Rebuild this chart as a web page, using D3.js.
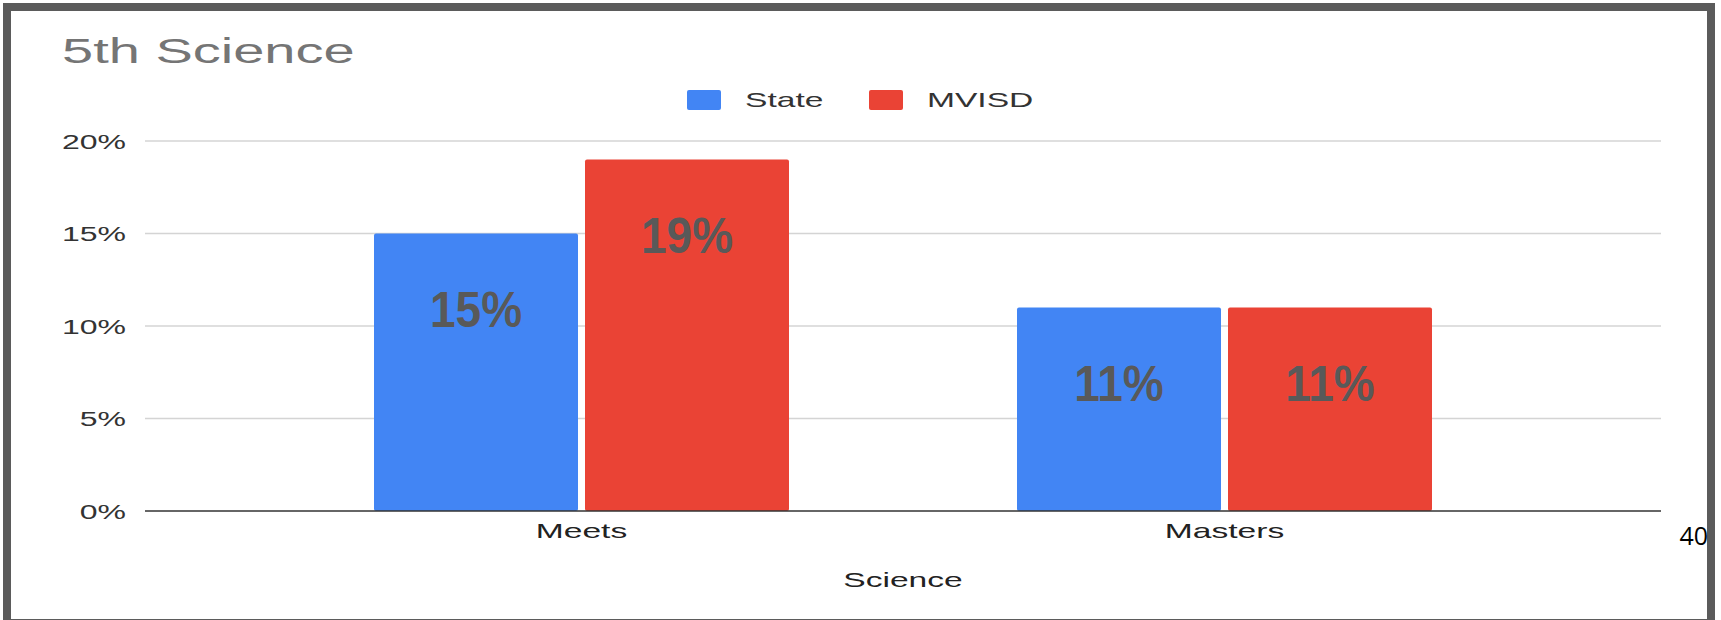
<!DOCTYPE html>
<html>
<head>
<meta charset="utf-8">
<script src="https://cdn.jsdelivr.net/npm/d3@7"></script>
<style>
  html, body { margin: 0; padding: 0; background: #ffffff; }
  svg { display: block; font-family: "Liberation Sans", Arial, sans-serif; }
</style>
</head>
<body>
<svg id="chart" width="1721" height="620"></svg>
<script>
// Chart data
const categories = ["Meets", "Masters"];
const seriesNames = ["State", "MVISD"];
const stateValues = [15, 11];
const mvisdValues = [19, 11];
const yTicks = [0, 5, 10, 15, 20];
const seriesColors = ["#4285f4", "#ea4335"];

const rows = categories.map((c, i) => ({
  category: c,
  values: [
    { series: seriesNames[0], value: stateValues[i] },
    { series: seriesNames[1], value: mvisdValues[i] }
  ]
}));

// horizontal stretch used by the axis, title and legend lettering
const WIDE = 1.6;

const svg = d3.select("#chart");

// outer frame
svg.append("rect")
  .attr("x", 7).attr("y", 7)
  .attr("width", 1704).attr("height", 616)
  .attr("fill", "#ffffff")
  .attr("stroke", "#5b5b5b")
  .attr("stroke-width", 8);

const gridLeft = 145, gridRight = 1661;
const plotTop = 141, plotBottom = 511;

const y = d3.scaleLinear().domain([0, 20]).range([plotBottom, plotTop]);

const x0 = d3.scaleBand()
  .domain(categories)
  .range([260, 1546])
  .paddingInner(0.3546)
  .paddingOuter(0.1773);

const x1 = d3.scaleBand()
  .domain(seriesNames)
  .range([0, x0.bandwidth()])
  .paddingInner(0.0332)
  .paddingOuter(0);

const color = d3.scaleOrdinal().domain(seriesNames).range(seriesColors);

function stretchedText(parent, x, yPos, sx, txt) {
  return parent.append("text")
    .attr("transform", `translate(${x},${yPos}) scale(${sx},1)`)
    .text(txt);
}

// title
stretchedText(svg, 62, 63, WIDE, "5th Science")
  .attr("font-size", 35)
  .attr("fill", "#757575");

// legend
const legend = svg.append("g");
const legendItems = [
  { name: seriesNames[0], x: 687 },
  { name: seriesNames[1], x: 869 }
];
legendItems.forEach(it => {
  legend.append("rect")
    .attr("x", it.x).attr("y", 90)
    .attr("width", 34).attr("height", 20)
    .attr("rx", 2)
    .attr("fill", color(it.name));
  stretchedText(legend, it.x + 58, 107, WIDE, it.name)
    .attr("font-size", 21)
    .attr("fill", "#333333");
});

// gridlines
svg.append("g")
  .selectAll("line")
  .data(yTicks.filter(t => t !== 0))
  .join("line")
  .attr("x1", gridLeft).attr("x2", gridRight)
  .attr("y1", d => y(d)).attr("y2", d => y(d))
  .attr("stroke", "#d4d4d4")
  .attr("stroke-width", 1.5);

// y axis labels
const yAxis = d3.axisLeft(y)
  .tickValues(yTicks)
  .tickFormat(d => d + "%")
  .tickSize(0)
  .tickPadding(0);
const yAxisG = svg.append("g")
  .attr("transform", `translate(126,0)`)
  .call(yAxis);
yAxisG.select(".domain").remove();
yAxisG.selectAll("text")
  .attr("font-family", "Liberation Sans, Arial, sans-serif")
  .attr("font-size", 20)
  .attr("fill", "#333333")
  .attr("x", 0)
  .attr("dy", "0.36em")
  .attr("transform", `scale(${WIDE},1)`);

// bars
const groups = svg.append("g")
  .selectAll("g")
  .data(rows)
  .join("g")
  .attr("transform", d => `translate(${x0(d.category)},0)`);

groups.selectAll("rect")
  .data(d => d.values)
  .join("rect")
  .attr("x", d => x1(d.series))
  .attr("y", d => y(d.value))
  .attr("width", x1.bandwidth())
  .attr("height", d => y(0) - y(d.value))
  .attr("rx", 2)
  .attr("fill", d => color(d.series));

// value labels
groups.selectAll("text.value")
  .data(d => d.values)
  .join("text")
  .attr("class", "value")
  .attr("transform", d =>
    `translate(${x1(d.series) + x1.bandwidth() / 2},${y(d.value) + 93}) scale(0.92,1)`)
  .attr("text-anchor", "middle")
  .attr("font-size", 50)
  .attr("font-weight", "bold")
  .attr("fill", "#595959")
  .text(d => d.value + "%");

// x axis
const xAxis = d3.axisBottom(x0).tickSize(0).tickPadding(0);
const xAxisG = svg.append("g")
  .attr("transform", `translate(0,${plotBottom})`)
  .call(xAxis);
xAxisG.select(".domain").remove();
xAxisG.selectAll("text")
  .attr("font-family", "Liberation Sans, Arial, sans-serif")
  .attr("font-size", 21)
  .attr("fill", "#222222")
  .attr("y", 0)
  .attr("dy", "1.3em")
  .attr("transform", `scale(${WIDE},1)`);

svg.append("line")
  .attr("x1", gridLeft).attr("x2", gridRight)
  .attr("y1", plotBottom).attr("y2", plotBottom)
  .attr("stroke", "#333333")
  .attr("stroke-width", 1.5);

// x axis title
stretchedText(svg, (gridLeft + gridRight) / 2, 587, WIDE, "Science")
  .attr("text-anchor", "middle")
  .attr("font-size", 21)
  .attr("fill", "#222222");

// page number
svg.append("text")
  .attr("x", 1708).attr("y", 545)
  .attr("text-anchor", "end")
  .attr("font-family", "Open Sans, sans-serif")
  .attr("font-size", 25)
  .attr("fill", "#000000")
  .text("40");
</script>
</body>
</html>
